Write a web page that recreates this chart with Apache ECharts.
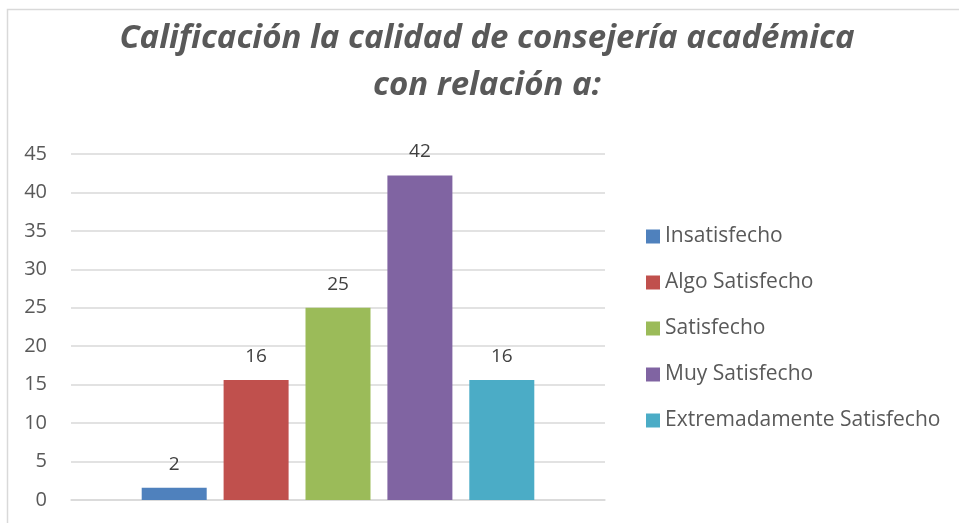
<!DOCTYPE html>
<html lang="es">

<head>
    <meta charset="UTF-8">
    <title>Calificación consejería académica</title>
    <style>
        html, body { margin: 0; padding: 0; background: #fff; }
        .box { width: 959px; height: 523px; }
    </style>
</head>

<body>
    <div class="box"></div>

    <script src="https://cdn.jsdelivr.net/npm/echarts@6/dist/echarts.min.js"></script>
    <script>
        // porcentajes (las etiquetas se muestran redondeadas)
        let categorias = ["Calificación"];
        let nombres = ["Insatisfecho", "Algo Satisfecho", "Satisfecho", "Muy Satisfecho", "Extremadamente Satisfecho"];
        let valores = [1.6, 15.6, 25.0, 42.2, 15.6];
        let colores = ["#4f81bd", "#c0504d", "#9bbb59", "#8064a2", "#4bacc6"];
        let yTicks = { min: 0, max: 45, interval: 5 };

        let myChart = echarts.init(document.querySelector(".box"));
        let fuente = "'Open Sans', sans-serif";

        let series = nombres.map(function (n, i) {
            return {
                name: n,
                type: "bar",
                data: [valores[i]],
                barWidth: 65,
                barGap: "26%",
                itemStyle: { color: colores[i] },
                label: {
                    show: true,
                    position: "top",
                    distance: 14,
                    color: "#404040",
                    fontSize: 19,
                    fontFamily: fuente,
                    formatter: function (p) { return Math.round(p.value); }
                }
            };
        });

        option = {
            animation: false,
            title: {
                text: "Calificación la calidad de consejería académica\ncon relación a:",
                left: 487,
                textAlign: "center",
                top: 15,
                padding: 0,
                textStyle: {
                    color: "#595959",
                    fontSize: 33,
                    fontStyle: "italic",
                    fontWeight: "bold",
                    fontFamily: fuente,
                    lineHeight: 47
                }
            },
            legend: {
                orient: "vertical",
                left: 641,
                top: 221,
                itemWidth: 14,
                itemHeight: 14,
                itemGap: 25,
                icon: "rect",
                textStyle: {
                    color: "#595959",
                    fontSize: 21,
                    fontFamily: fuente,
                    lineHeight: 21
                }
            },
            grid: {
                left: 71,
                right: 354,
                top: 154,
                bottom: 23
            },
            xAxis: {
                type: "category",
                data: categorias,
                axisLine: { lineStyle: { color: "#d9d9d9", width: 1.5 } },
                axisTick: { show: false },
                axisLabel: { show: false }
            },
            yAxis: {
                type: "value",
                min: yTicks.min,
                max: yTicks.max,
                interval: yTicks.interval,
                axisLabel: {
                    color: "#595959",
                    fontSize: 20,
                    fontFamily: fuente,
                    margin: 24
                },
                splitLine: { lineStyle: { color: "#d9d9d9", width: 1.5 } }
            },
            graphic: [{
                type: "polyline",
                shape: { points: [[7.5, 523], [7.5, 9.5], [959, 9.5]] },
                style: { stroke: "#d9d9d9", lineWidth: 1.5, fill: null }
            }],
            series: series
        };
        myChart.setOption(option);
    </script>
</body>

</html>
